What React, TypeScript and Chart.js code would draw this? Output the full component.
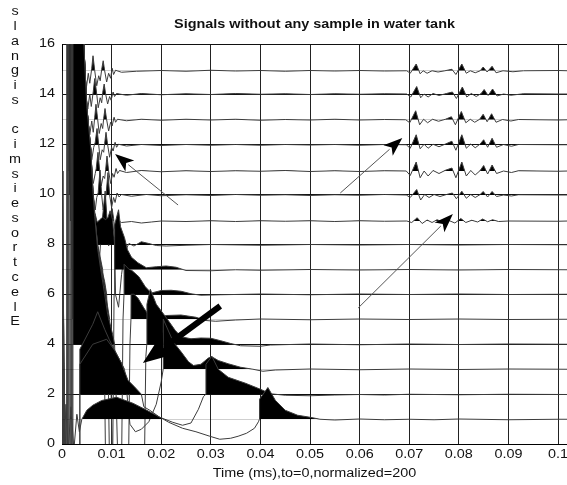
import React, { useEffect, useRef } from 'react';
import { Chart, registerables } from 'chart.js';

Chart.register(...registerables);

type P = [number, number];

const chartTitle = 'Signals without any sample in water tank';
const xAxisLabel = 'Time (ms),to=0,normalized=200';
const yAxisLabel = 'slangis cimsiesortcelE';

const xTickValues = [0, 0.01, 0.02, 0.03, 0.04, 0.05, 0.06, 0.07, 0.08, 0.09, 0.1];
const xTickLabels = ['0', '0.01', '0.02', '0.03', '0.04', '0.05', '0.06', '0.07', '0.08', '0.09', '0.1'];
const yTickValues = [0, 2, 4, 6, 8, 10, 12, 14, 16];
const yTickLabels = ['0', '2', '4', '6', '8', '10', '12', '14', '16'];

// trace baselines (trace 1 .. trace 15)
const baselines = [0.99, 1.99, 2.99, 3.99, 4.99, 5.99, 6.97, 7.97, 8.92, 9.96, 10.92, 11.97, 12.97, 14.0, 14.93];

// each trace: [time (ms), normalized amplitude relative to its baseline]
const trace1: P[] = [[0,0],[0.0004,-1.5],[0.0008,0.6],[0.0012,-1.5],[0.0018,0.5],[0.0024,-1.2],[0.003,0.2],[0.0035,-0.5],[0.004,0],[0.005,0.36],[0.0062,0.56],[0.008,0.75],[0.011,0.88],[0.0143,0.64],[0.0171,0.36],[0.0203,0.02],[0.0215,-0.12],[0.0243,-0.36],[0.027,-0.5],[0.0298,-0.68],[0.0318,-0.8],[0.034,-0.76],[0.0355,-0.68],[0.0372,-0.56],[0.0388,-0.36],[0.0396,-0.1],[0.0398,0],[0.03982,0.8],[0.0415,1.27],[0.043,0.76],[0.045,0.36],[0.0475,0.16],[0.05,0.08],[0.052,0],[0.055,-0.03],[0.06,0.01],[0.065,-0.02],[0.07,0],[0.075,-0.02],[0.08,0.01],[0.09,-0.02],[0.1,0],[0.102,0]];
const trace2: P[] = [[0,0],[0.0002,-3],[0.0035,-3],[0.0036,1.2],[0.0062,2.0],[0.009,2.2],[0.0106,1.76],[0.012,1.24],[0.0133,0.56],[0.0146,0.3],[0.016,0],[0.0165,-0.5],[0.0177,-0.64],[0.0197,-0.92],[0.0223,-1.12],[0.0243,-1.24],[0.026,-1.15],[0.0275,-0.6],[0.0285,-0.1],[0.029,0],[0.02902,1.2],[0.0302,1.52],[0.0315,1.0],[0.0335,0.68],[0.037,0.44],[0.04,0.2],[0.042,0.02],[0.045,-0.04],[0.05,-0.06],[0.055,-0.03],[0.06,-0.01],[0.065,-0.03],[0.07,0],[0.08,-0.02],[0.09,0],[0.102,-0.01]];
const trace3: P[] = [[0,0],[0.0007,-4],[0.0035,-4],[0.0036,0.8],[0.0062,1.8],[0.0072,2.3],[0.0086,1.6],[0.0095,1.2],[0.0106,0.76],[0.012,0.24],[0.0126,0],[0.013,-0.8],[0.0137,-2.2],[0.0148,-2.5],[0.016,-2.4],[0.0175,-2.1],[0.019,-1.4],[0.02,-0.5],[0.0204,0],[0.02042,2.0],[0.0222,1.2],[0.0228,1.0],[0.024,0.7],[0.0255,0.3],[0.0265,0.15],[0.028,0.2],[0.0295,0.45],[0.0302,0.5],[0.0315,0.35],[0.0335,0.22],[0.036,0.08],[0.0385,0],[0.0405,-0.08],[0.043,-0.03],[0.05,0.01],[0.06,-0.02],[0.07,0.01],[0.08,-0.01],[0.09,0.01],[0.102,0]];
const trace4: P[] = [[0,0],[0.0009,-5],[0.0021,-5],[0.0022,14],[0.0044,12],[0.005,9.5],[0.0058,7.8],[0.0062,6.2],[0.0066,5.1],[0.0072,3.8],[0.0078,3.0],[0.0086,2.0],[0.0092,1.2],[0.0102,0.4],[0.0106,0],[0.0109,-2],[0.0113,-5],[0.0166,-5],[0.0169,-0.5],[0.0171,0],[0.01712,1.6],[0.0178,2.2],[0.019,1.6],[0.0211,1.04],[0.0228,0.56],[0.024,0.3],[0.026,0.22],[0.028,0.25],[0.03,0.24],[0.032,0.14],[0.034,0.03],[0.036,-0.06],[0.04,-0.08],[0.042,-0.03],[0.05,0.01],[0.06,-0.02],[0.07,0.01],[0.08,-0.01],[0.09,0.01],[0.102,0]];
const trace5: P[] = [[0,0],[0.0005,-6],[0.002,-6],[0.0021,13],[0.0044,11],[0.005,8.5],[0.0058,6.8],[0.0062,5.2],[0.0066,4.1],[0.0072,2.9],[0.0078,2.1],[0.0086,1.3],[0.0092,0.5],[0.0096,0],[0.0099,-3],[0.0102,-6],[0.0134,-6],[0.0137,-1],[0.0139,0],[0.01392,1.0],[0.0145,1.0],[0.0153,0.85],[0.0165,0.45],[0.0178,0.06],[0.019,0.03],[0.021,0.15],[0.024,0.17],[0.027,0.08],[0.029,-0.05],[0.031,-0.08],[0.035,-0.03],[0.04,0.01],[0.05,-0.02],[0.06,0.01],[0.07,-0.01],[0.08,0.01],[0.09,-0.01],[0.102,0]];
const trace6: P[] = [[0,0],[0.0008,-7],[0.0019,-7],[0.002,12],[0.0044,10],[0.005,7.5],[0.0058,5.8],[0.0062,4.2],[0.0066,3.1],[0.0072,1.9],[0.0078,1.2],[0.0086,0.5],[0.009,0],[0.0093,-3],[0.0096,-7],[0.012,-7],[0.0123,-1],[0.0125,0],[0.01252,1.2],[0.0135,1.0],[0.0141,0.95],[0.0155,0.7],[0.0168,0.3],[0.018,0.05],[0.02,0.15],[0.022,0.16],[0.024,0.12],[0.026,0.02],[0.028,-0.04],[0.032,-0.02],[0.04,0.01],[0.05,-0.02],[0.06,0.01],[0.07,-0.01],[0.08,0.01],[0.09,-0.01],[0.102,0]];
const trace7: P[] = [[0,0],[0.0004,-8],[0.0018,-8],[0.0019,11],[0.0044,9],[0.005,6.5],[0.0058,4.8],[0.0062,3.2],[0.0066,2.1],[0.0072,1.0],[0.0078,0.4],[0.0082,0],[0.0085,-3],[0.0088,-8],[0.0102,-8],[0.0105,-1],[0.0106,0],[0.01062,1.8],[0.0114,2.4],[0.0118,1.72],[0.0126,1.28],[0.0132,0.8],[0.014,0.5],[0.0153,0.28],[0.017,0.08],[0.019,0.12],[0.021,0.15],[0.023,0.1],[0.025,-0.03],[0.03,-0.04],[0.035,0],[0.04,-0.02],[0.05,0.01],[0.06,-0.01],[0.07,0.01],[0.08,-0.01],[0.09,0.01],[0.102,0]];
const trace8: P[] = [[0,0],[0.0006,-9],[0.0017,-9],[0.0018,10],[0.0044,8],[0.005,5.5],[0.0058,3.8],[0.0062,2.2],[0.0066,1.3],[0.0071,0.9],[0.0076,1.0],[0.0082,1.1],[0.0088,1.0],[0.0093,1.1],[0.0097,1.36],[0.0102,1.0],[0.0105,0.3],[0.0106,0],[0.0108,-2],[0.0114,-2.5],[0.012,-1.2],[0.0126,-0.3],[0.0135,0.05],[0.0145,-0.05],[0.016,0.12],[0.0175,0.05],[0.019,-0.03],[0.021,-0.05],[0.025,-0.02],[0.03,0.01],[0.04,-0.02],[0.05,0.01],[0.06,-0.01],[0.07,0.01],[0.08,-0.01],[0.09,0.01],[0.102,0]];
const trace9: P[] = [[0,0],[0.0003,-10],[0.0015,-10],[0.0016,9],[0.0044,7],[0.005,4.5],[0.0058,2.8],[0.0062,1.2],[0.0067,0],[0.007,-1.5],[0.0074,-2],[0.0078,-0.8],[0.0082,0.2],[0.0087,1.2],[0.009,0.3],[0.0094,-1.0],[0.0098,-0.4],[0.0101,0.5],[0.0104,0.1],[0.0106,-0.3],[0.011,0.05],[0.012,-0.06],[0.014,-0.02],[0.016,-0.08],[0.018,-0.04],[0.02,0],[0.025,-0.02],[0.03,0.01],[0.035,-0.02],[0.04,0.01],[0.045,-0.01],[0.05,0.01],[0.055,-0.02],[0.06,0.01],[0.065,-0.01],[0.0695,0],[0.0705,-0.06],[0.0716,0.13],[0.0726,-0.1],[0.0736,0.04],[0.0746,-0.06],[0.0756,0.05],[0.0768,-0.04],[0.078,0.02],[0.0792,-0.08],[0.0804,0.1],[0.0814,-0.06],[0.0826,0.03],[0.0838,-0.04],[0.0848,0.08],[0.0858,-0.03],[0.0868,0.05],[0.088,-0.02],[0.09,0],[0.1,-0.01],[0.102,0]];
const trace10: P[] = [[0,0],[0.0007,-11],[0.0013,-11],[0.0014,7.5],[0.0044,6],[0.005,3.5],[0.0058,1.8],[0.0063,0],[0.0067,-0.6],[0.007,-0.1],[0.0073,0.1],[0.00766,1.0],[0.008,0],[0.0083,-0.6],[0.0087,-0.2],[0.0089,0.05],[0.00927,0.9],[0.0096,0],[0.01,-0.5],[0.0104,-0.1],[0.0107,-0.3],[0.0111,0.08],[0.0115,-0.08],[0.012,0.02],[0.014,-0.05],[0.017,0.02],[0.02,-0.03],[0.025,0.01],[0.03,-0.02],[0.035,0.02],[0.04,-0.01],[0.045,0.01],[0.05,-0.02],[0.055,0.01],[0.06,-0.01],[0.065,0.02],[0.0694,0],[0.0702,-0.1],[0.0715,0.22],[0.0723,-0.2],[0.0731,0.02],[0.074,-0.1],[0.075,0.02],[0.0762,-0.06],[0.0775,0.02],[0.0787,0.08],[0.0795,-0.15],[0.0806,0.15],[0.0815,-0.13],[0.0824,0.02],[0.0833,-0.1],[0.0843,0.02],[0.0849,0.14],[0.0858,-0.08],[0.0867,0.14],[0.0876,-0.06],[0.089,0],[0.0906,-0.04],[0.092,0.01],[0.1,0],[0.102,0]];
const trace11: P[] = [[0,0],[0.0002,-12],[0.0012,-12],[0.0013,6.5],[0.0044,5],[0.005,2.5],[0.0058,0.8],[0.006,0],[0.0063,-0.5],[0.0067,-0.1],[0.0069,0.1],[0.00726,0.75],[0.0076,0],[0.0079,-0.6],[0.0083,-0.2],[0.0086,-0.3],[0.0088,0.05],[0.00907,0.6],[0.0094,0],[0.0098,-0.5],[0.0102,-0.1],[0.0105,-0.25],[0.0109,0.1],[0.0112,-0.1],[0.0116,0.02],[0.013,-0.06],[0.016,0.02],[0.02,-0.03],[0.025,0.01],[0.03,-0.02],[0.035,0.01],[0.04,-0.01],[0.045,0.02],[0.05,-0.02],[0.055,0.01],[0.06,-0.02],[0.065,0.01],[0.0694,0],[0.0702,-0.18],[0.0714,0.36],[0.0722,-0.27],[0.073,0],[0.0738,-0.2],[0.0748,0.02],[0.076,-0.1],[0.0773,0.03],[0.0786,0.12],[0.0794,-0.27],[0.0806,0.36],[0.0815,-0.2],[0.0824,0.02],[0.0833,-0.16],[0.0843,0.02],[0.085,0.22],[0.0858,-0.12],[0.0867,0.24],[0.0876,-0.1],[0.089,0],[0.0906,-0.06],[0.092,0.01],[0.1,-0.01],[0.102,0]];
const trace12: P[] = [[0,0],[0.0006,-13],[0.0011,-13],[0.0012,5.5],[0.0044,4],[0.005,1.5],[0.0057,0],[0.006,-0.6],[0.0064,-0.1],[0.0067,0.1],[0.00706,0.65],[0.0074,0],[0.0077,-0.6],[0.0081,-0.2],[0.0084,-0.3],[0.0086,0.05],[0.00887,0.5],[0.0092,0],[0.0096,-0.5],[0.01,-0.1],[0.0103,-0.25],[0.0107,0.1],[0.011,-0.1],[0.0114,0.02],[0.013,-0.05],[0.016,0.01],[0.02,-0.03],[0.025,0.01],[0.03,-0.02],[0.035,0.01],[0.04,-0.02],[0.045,0.01],[0.05,-0.01],[0.055,0.01],[0.06,-0.02],[0.065,0.01],[0.0694,0],[0.0702,-0.14],[0.0714,0.4],[0.0722,-0.16],[0.073,0.02],[0.0738,-0.14],[0.0748,0.02],[0.076,-0.08],[0.0773,0.03],[0.0786,0.14],[0.0794,-0.22],[0.0806,0.4],[0.0815,-0.14],[0.0824,0.03],[0.0833,-0.12],[0.0843,0.03],[0.085,0.2],[0.0858,-0.1],[0.0867,0.26],[0.0876,-0.1],[0.089,0.01],[0.0906,-0.06],[0.092,0.01],[0.1,0],[0.102,0]];
const trace13: P[] = [[0,0],[0.0004,-14],[0.001,-14],[0.0011,4.5],[0.0044,3],[0.0048,1.2],[0.0052,0],[0.0056,-0.6],[0.006,-0.05],[0.0063,-0.5],[0.0066,0.1],[0.00685,0.62],[0.0072,0],[0.0075,-0.55],[0.0079,-0.15],[0.0082,-0.35],[0.0084,0.05],[0.00867,0.45],[0.009,0],[0.0094,-0.45],[0.0098,-0.1],[0.0101,-0.25],[0.0105,0.1],[0.0108,-0.1],[0.0112,0.02],[0.013,-0.04],[0.016,0.02],[0.02,-0.02],[0.025,0.02],[0.03,-0.01],[0.035,0.02],[0.04,-0.02],[0.045,0.01],[0.05,-0.01],[0.055,0.02],[0.06,-0.01],[0.065,0.01],[0.0693,0],[0.0701,-0.12],[0.0713,0.36],[0.0721,-0.2],[0.0729,0.02],[0.0737,-0.12],[0.0747,0.02],[0.0759,-0.06],[0.0773,0.02],[0.0785,0.12],[0.0793,-0.2],[0.0805,0.33],[0.0814,-0.12],[0.0823,0.02],[0.0832,-0.1],[0.0842,0.02],[0.0849,0.22],[0.0857,-0.08],[0.0866,0.24],[0.0875,-0.1],[0.0888,0.01],[0.0905,-0.05],[0.092,0.01],[0.1,-0.01],[0.102,0]];
const trace14: P[] = [[0,0],[0.0005,-15],[0.0009,-15],[0.001,3.5],[0.0044,2],[0.0046,0.7],[0.0048,0],[0.0052,-0.6],[0.0056,0],[0.0059,-0.5],[0.0063,0.1],[0.0066,0.62],[0.007,0],[0.0073,-0.55],[0.0077,-0.15],[0.008,-0.35],[0.0082,0.05],[0.0085,0.4],[0.0088,0],[0.0092,-0.4],[0.0096,-0.1],[0.0099,-0.25],[0.0103,0.08],[0.0106,-0.1],[0.011,0.02],[0.013,-0.05],[0.016,0.02],[0.02,-0.03],[0.025,0.01],[0.03,-0.02],[0.035,0.02],[0.04,-0.01],[0.045,0.01],[0.05,-0.02],[0.055,0.01],[0.06,-0.01],[0.065,0.01],[0.0695,0],[0.0703,-0.12],[0.0715,0.3],[0.0723,-0.15],[0.073,0],[0.0738,-0.12],[0.0748,0.02],[0.076,-0.06],[0.0775,0.02],[0.0787,0.08],[0.0795,-0.18],[0.0807,0.28],[0.0816,-0.12],[0.0825,0.02],[0.0835,-0.1],[0.0845,0.02],[0.0851,0.18],[0.0859,-0.06],[0.0868,0.2],[0.0877,-0.08],[0.089,0],[0.0905,-0.05],[0.093,0.01],[0.1,0],[0.102,0]];
const trace15: P[] = [[0,0],[0.0003,-16],[0.0009,-16],[0.001,2.5],[0.0043,1.2],[0.0045,0],[0.0049,-0.7],[0.0053,-0.1],[0.0056,-0.5],[0.006,0.1],[0.00625,0.6],[0.0066,0],[0.007,-0.6],[0.0074,-0.2],[0.0077,-0.4],[0.008,0.05],[0.0083,0.4],[0.0086,0],[0.009,-0.45],[0.0094,-0.1],[0.0098,-0.3],[0.0101,0.1],[0.0104,-0.15],[0.0108,0.02],[0.012,-0.06],[0.015,-0.02],[0.02,0.01],[0.025,-0.02],[0.03,0.02],[0.035,-0.01],[0.04,0.01],[0.045,-0.02],[0.05,0.01],[0.055,-0.01],[0.06,0.01],[0.065,-0.01],[0.0695,0],[0.0702,-0.1],[0.0714,0.27],[0.0722,-0.12],[0.0728,0],[0.0736,-0.1],[0.0746,0],[0.0758,-0.05],[0.0772,0],[0.0786,0.06],[0.0794,-0.15],[0.0806,0.27],[0.0815,-0.1],[0.0823,0],[0.0833,-0.08],[0.0843,0],[0.0849,0.15],[0.0857,-0.05],[0.0867,0.18],[0.0875,-0.08],[0.0889,0],[0.0909,-0.04],[0.093,0],[0.1,0.01],[0.102,0]];

const traceList: P[][] = [trace1, trace2, trace3, trace4, trace5, trace6, trace7, trace8, trace9, trace10, trace11, trace12, trace13, trace14, trace15];

// annotation arrows in data coordinates: [tailTime, tailValue, tipTime, tipValue]
const thinArrows: number[][] = [
  [0.0234, 9.56, 0.0107, 11.6],
  [0.0561, 10.04, 0.0686, 12.24],
  [0.0597, 5.44, 0.0788, 9.2],
];
const thickArrows: number[][] = [
  [0.0319, 5.52, 0.0163, 3.24],
];

const X_MAX = 0.1018;
const FONT = '"Liberation Sans", Arial, Helvetica, sans-serif';
const STRETCH = 1.2;

function drawArrow(ctx: CanvasRenderingContext2D, x0: number, y0: number, x1: number, y1: number, lw: number, headLen: number, headHalf: number, lineColor: string) {
  const ang = Math.atan2(y1 - y0, x1 - x0);
  const bx = x1 - headLen * Math.cos(ang);
  const by = y1 - headLen * Math.sin(ang);
  ctx.save();
  ctx.strokeStyle = lineColor;
  ctx.lineWidth = lw;
  ctx.lineCap = 'butt';
  ctx.beginPath();
  ctx.moveTo(x0, y0);
  ctx.lineTo(bx + 2 * Math.cos(ang), by + 2 * Math.sin(ang));
  ctx.stroke();
  ctx.fillStyle = '#000';
  ctx.beginPath();
  ctx.moveTo(x1, y1);
  ctx.lineTo(bx + headHalf * Math.sin(ang), by - headHalf * Math.cos(ang));
  ctx.lineTo(bx + 0.25 * headLen * Math.cos(ang), by + 0.25 * headLen * Math.sin(ang));
  ctx.lineTo(bx - headHalf * Math.sin(ang), by + headHalf * Math.cos(ang));
  ctx.closePath();
  ctx.fill();
  ctx.restore();
}

function drawText(ctx: CanvasRenderingContext2D, txt: string, x: number, y: number, align: CanvasTextAlign, font: string) {
  ctx.save();
  ctx.translate(x, y);
  ctx.scale(STRETCH, 1);
  ctx.font = font;
  ctx.textAlign = align;
  ctx.textBaseline = 'middle';
  ctx.fillStyle = '#111';
  ctx.fillText(txt, 0, 0);
  ctx.restore();
}

const decorPlugin = {
  id: 'decor',
  afterDraw(chart: any) {
    const { ctx, chartArea: ca, scales } = chart;
    const xs = scales.x;
    const ys = scales.y;
    ctx.save();
    ctx.beginPath();
    ctx.rect(ca.left, ca.top, ca.right - ca.left, ca.bottom - ca.top);
    ctx.clip();
    thinArrows.forEach((a) => {
      drawArrow(ctx, xs.getPixelForValue(a[0]), ys.getPixelForValue(a[1]), xs.getPixelForValue(a[2]), ys.getPixelForValue(a[3]), 1, 19, 7, '#555');
    });
    thickArrows.forEach((a) => {
      drawArrow(ctx, xs.getPixelForValue(a[0]), ys.getPixelForValue(a[1]), xs.getPixelForValue(a[2]), ys.getPixelForValue(a[3]), 6, 34, 13, '#000');
    });
    ctx.restore();

    const tickFont = '12px ' + FONT;
    xTickValues.forEach((v, i) => {
      drawText(ctx, xTickLabels[i], xs.getPixelForValue(v), ca.bottom + 11, 'center', tickFont);
    });
    yTickValues.forEach((v, i) => {
      drawText(ctx, yTickLabels[i], ca.left - 7, ys.getPixelForValue(v), 'right', tickFont);
    });
    const cx = (ca.left + ca.right) / 2;
    drawText(ctx, chartTitle, cx, ca.top - 19, 'center', 'bold 12px ' + FONT);
    drawText(ctx, xAxisLabel, cx, ca.bottom + 30, 'center', '12px ' + FONT);
    const chars = Array.from(yAxisLabel);
    chars.forEach((c, i) => {
      if (c !== ' ') drawText(ctx, c, 15, ca.top - 32 + i * 14.76, 'center', '12px ' + FONT);
    });
  },
};

export default function App() {
  const ref = useRef<HTMLCanvasElement>(null);
  useEffect(() => {
    const canvas = ref.current;
    if (!canvas) return;
    const datasets = traceList.map((tr, i) => ({
      data: tr.map(([t, v]) => ({ x: t, y: baselines[i] + v })),
      borderColor: '#3c3c3c',
      borderWidth: 1,
      pointRadius: 0,
      tension: 0,
      fill: { target: { value: baselines[i] }, above: '#000', below: 'rgba(0,0,0,0)' },
    }));
    const chart = new Chart(canvas, {
      type: 'line',
      data: { datasets } as any,
      options: {
        animation: false,
        responsive: false,
        devicePixelRatio: 1,
        layout: { padding: { left: 62, top: 44, right: 0, bottom: 41 } },
        plugins: {
          legend: { display: false },
          tooltip: { enabled: false },
          title: { display: false },
        },
        scales: {
          x: {
            type: 'linear',
            min: 0,
            max: X_MAX,
            afterBuildTicks: (s: any) => { s.ticks = xTickValues.map((v) => ({ value: v })); },
            afterFit: (s: any) => { s.height = 0; },
            ticks: { display: false },
            grid: { color: '#222', lineWidth: 1, drawTicks: false },
            border: { display: true, color: '#000', width: 1 },
          },
          y: {
            type: 'linear',
            min: 0,
            max: 16,
            afterBuildTicks: (s: any) => { s.ticks = yTickValues.map((v) => ({ value: v })); },
            afterFit: (s: any) => { s.width = 0; },
            ticks: { display: false },
            grid: { color: '#111', lineWidth: 1, drawTicks: false },
            border: { display: true, color: '#000', width: 1 },
          },
        },
      } as any,
      plugins: [decorPlugin],
    });
    return () => chart.destroy();
  }, []);
  return (
    <div style={{ position: 'absolute', left: 0, top: 0, width: 567, height: 485, background: '#fff' }}>
      <canvas ref={ref} width={567} height={485} style={{ display: 'block' }} />
    </div>
  );
}
